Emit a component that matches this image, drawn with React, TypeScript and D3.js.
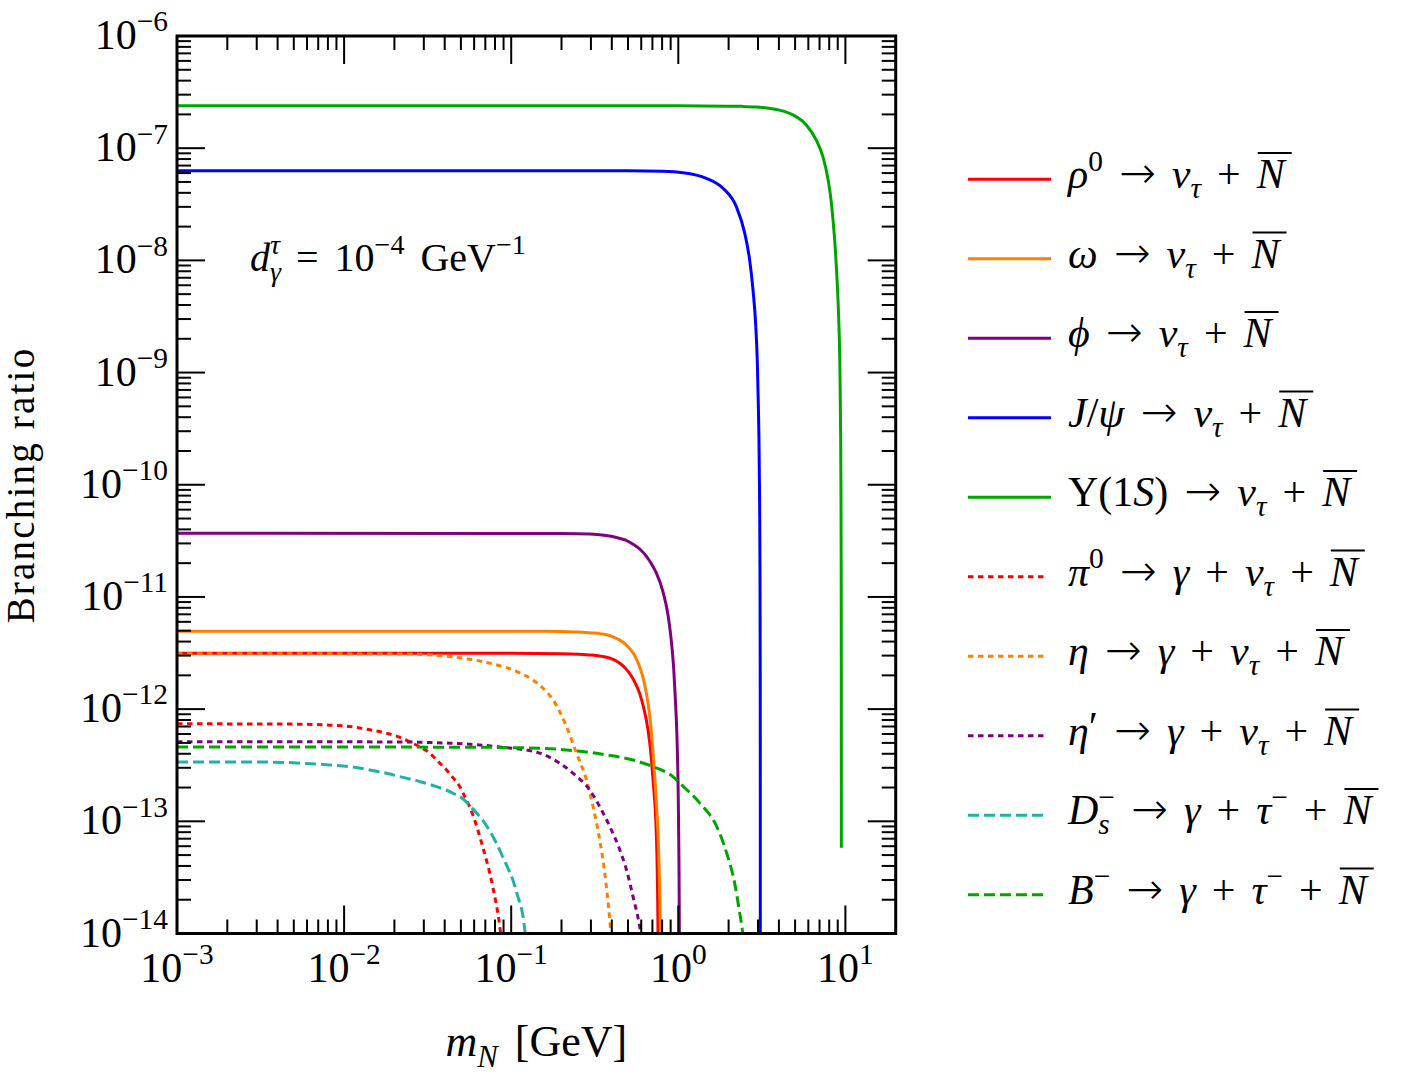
import React, { useRef, useEffect } from "react";
import * as d3 from "d3";

type Pt = [number, number];
type Seg = [string, string];

// m_N [GeV] vs branching ratio
const rhoCurve: Pt[] = [
  [0.001, 3.15e-12], [0.1, 3.15e-12], [0.2, 3.12e-12], [0.2512, 3.085e-12], [0.302, 3.03e-12],
  [0.339, 2.97e-12], [0.3715, 2.9e-12], [0.4074, 2.77e-12], [0.4467, 2.56e-12], [0.4895, 2.26e-12],
  [0.537, 1.855e-12], [0.5876, 1.375e-12], [0.6237, 9.96e-13], [0.6589, 6.5e-13], [0.684, 4.15e-13],
  [0.7058, 2.34e-13], [0.7396, 7.3e-14], [0.7561, 1.0e-14], [0.762, 1e-15],
];
const omegaCurve: Pt[] = [
  [0.001, 4.95e-12], [0.1, 4.95e-12], [0.2, 4.93e-12], [0.2512, 4.86e-12], [0.302, 4.78e-12],
  [0.339, 4.71e-12], [0.3715, 4.6e-12], [0.4074, 4.41e-12], [0.4467, 4.12e-12], [0.4895, 3.72e-12],
  [0.537, 3.16e-12], [0.5876, 2.39e-12], [0.6237, 1.76e-12], [0.6589, 1.13e-12], [0.684, 7.3e-13],
  [0.7058, 4.05e-13], [0.7396, 1.45e-13], [0.7635, 5.2e-14], [0.7815, 1.0e-14], [0.7826, 1e-15],
];
const phiCurve: Pt[] = [
  [0.001, 3.7e-11], [0.2, 3.68e-11], [0.2953, 3.63e-11], [0.36, 3.54e-11], [0.4265, 3.39e-11],
  [0.48, 3.22e-11], [0.5359, 2.95e-11], [0.59, 2.66e-11], [0.6445, 2.3e-11], [0.69, 1.98e-11],
  [0.7396, 1.63e-11], [0.8101, 1.11e-11], [0.868, 6.9e-12], [0.9093, 4.0e-12], [0.9387, 2.3e-12],
  [0.9608, 1.2e-12], [0.9787, 6.5e-13], [0.9991, 1.7e-13], [1.0093, 4.3e-14], [1.0144, 1.1e-14],
  [1.0175, 1.8e-15],
];
const jpsiCurve: Pt[] = [
  [0.001, 6.3e-8], [0.5, 6.28e-8], [0.8, 6.22e-8], [1.067, 6.05e-8], [1.472, 5.39e-8], [1.85, 4.39e-8],
  [2.226, 3.01e-8], [2.495, 1.76e-8], [2.673, 1.01e-8], [2.798, 5.5e-9], [2.904, 2.7e-9],
  [2.973, 1.2e-9], [3.013, 5.1e-10], [3.035, 2.9e-10], [3.066, 7.4e-11], [3.0815, 1.87e-11],
  [3.0908, 3.0e-12], [3.0939, 7.5e-13], [3.0961, 6.8e-14], [3.0969, 1e-15],
];
const upsCurve: Pt[] = [
  [0.001, 2.39e-7], [1.0, 2.39e-7], [2.0, 2.37e-7], [2.4, 2.36e-7], [2.932, 2.33e-7], [3.4, 2.28e-7],
  [3.862, 2.21e-7], [4.35, 2.115e-7], [4.853, 1.98e-7], [5.836, 1.61e-7], [6.697, 1.18e-7],
  [7.334, 8.4e-8], [7.859, 5.35e-8], [8.234, 3.3e-8], [8.498, 2.0e-8], [8.737, 1.15e-8],
  [8.92, 6.6e-9], [9.1, 3.3e-9], [9.271, 1.1e-9], [9.365, 2.8e-10], [9.413, 7.1e-11],
  [9.441, 1.14e-11], [9.4505, 2.9e-12], [9.4572, 2.6e-13], [9.4588, 5.8e-14],
];
const pi0Curve: Pt[] = [
  [0.001, 7.4e-13], [0.005, 7.35e-13], [0.00822, 7.2e-13], [0.01083, 7.0e-13], [0.01426, 6.55e-13],
  [0.01796, 6.1e-13], [0.0216, 5.6e-13], [0.02475, 5.1e-13], [0.0284, 4.6e-13], [0.0326, 4.05e-13],
  [0.0359, 3.5e-13], [0.041, 2.87e-13], [0.0448, 2.45e-13], [0.04927, 2.04e-13], [0.0528, 1.65e-13],
  [0.0565, 1.34e-13], [0.0676, 5.9e-14], [0.0776, 2.6e-14], [0.0855, 1.15e-14], [0.088, 8e-15],
];
const etaCurve: Pt[] = [
  [0.001, 3.12e-12], [0.0216, 3.1e-12], [0.0429, 2.94e-12], [0.0676, 2.65e-12], [0.108, 2.16e-12],
  [0.1346, 1.82e-12], [0.1589, 1.48e-12], [0.178, 1.21e-12], [0.2141, 7.0e-13], [0.2457, 4.05e-13],
  [0.2821, 2.34e-13], [0.309, 1.35e-13], [0.3388, 6.8e-14], [0.363, 3.45e-14], [0.389, 1.32e-14],
  [0.398, 9e-15],
];
const etapCurve: Pt[] = [
  [0.001, 5.13e-13], [0.02, 5.1e-13], [0.0429, 4.97e-13], [0.0855, 4.6e-13], [0.1483, 4.05e-13],
  [0.1953, 3.29e-13], [0.2346, 2.68e-13], [0.2953, 1.9e-13], [0.3388, 1.35e-13], [0.389, 9.0e-14],
  [0.446, 5.6e-14], [0.4895, 3.7e-14], [0.5359, 2.13e-14], [0.5876, 1.15e-14], [0.61, 8e-15],
];
const dsCurve: Pt[] = [
  [0.001, 3.38e-13], [0.0036, 3.37e-13], [0.00569, 3.29e-13], [0.00822, 3.18e-13], [0.01083, 3.07e-13],
  [0.01426, 2.87e-13], [0.01796, 2.68e-13], [0.0216, 2.5e-13], [0.0284, 2.26e-13], [0.0357, 2.04e-13],
  [0.0449, 1.78e-13], [0.0516, 1.58e-13], [0.0565, 1.38e-13], [0.0745, 8.2e-14], [0.0891, 4.8e-14],
  [0.108, 2.3e-14], [0.1206, 1.08e-14], [0.122, 8e-15],
];
const bCurve: Pt[] = [
  [0.001, 4.6e-13], [0.05, 4.58e-13], [0.1483, 4.48e-13], [0.2346, 4.27e-13], [0.3715, 3.91e-13],
  [0.5359, 3.52e-13], [0.7058, 3.07e-13], [0.9296, 2.5e-13], [1.0195, 2.19e-13], [1.343, 1.46e-13],
  [1.697, 9.0e-14], [1.948, 5.2e-14], [2.175, 2.8e-14], [2.329, 1.53e-14], [2.428, 1.0e-14],
  [2.46, 8e-15],
];

const curves = [rhoCurve, omegaCurve, phiCurve, jpsiCurve, upsCurve, pi0Curve, etaCurve, etapCurve, dsCurve, bCurve];

const arrow: Seg[] = [[" ", "r"], ["→", "arr"], [" ", "r"]];
const nuN: Seg[] = [...arrow, ["ν", "i"], ["τ", "subi"], [" + ", "r"], ["N", "bar"]];
const gnuN: Seg[] = [...arrow, ["γ", "i"], [" + ", "r"], ["ν", "i"], ["τ", "subi"], [" + ", "r"], ["N", "bar"]];
const gtauN: Seg[] = [...arrow, ["γ", "i"], [" + ", "r"], ["τ", "i"], ["−", "sup"], [" + ", "r"], ["N", "bar"]];

const legendLabels: Seg[][] = [
  [["ρ", "i"], ["0", "sup"], ...nuN],
  [["ω", "i"], ...nuN],
  [["ϕ", "i"], ...nuN],
  [["J", "i"], ["/", "r"], ["ψ", "i"], ...nuN],
  [["Υ(1", "r"], ["S", "i"], [")", "r"], ...nuN],
  [["π", "i"], ["0", "sup"], ...gnuN],
  [["η", "i"], ...gnuN],
  [["η", "i"], ["′", "prime"], ...gnuN],
  [["D", "i"], ["s", "subi"], ["−", "supb"], ...gtauN],
  [["B", "i"], ["−", "sup"], ...gtauN],
];

const seriesStyle = [
  { color: "#ff0000", dash: null },
  { color: "#ff8000", dash: null },
  { color: "#800080", dash: null },
  { color: "#0000ff", dash: null },
  { color: "#00a600", dash: null },
  { color: "#ff0000", dash: "5.5,4.5" },
  { color: "#ff8000", dash: "5.5,4.5" },
  { color: "#800080", dash: "5.5,4.5" },
  { color: "#20b2aa", dash: "11,5" },
  { color: "#00a600", dash: "11,5" },
];

const yExps = [-6, -7, -8, -9, -10, -11, -12, -13, -14];
const xExps = [-3, -2, -1, 0, 1];

const annotation: Seg[] = [["d", "i"], ["γ", "subi"], ["τ", "supib"], [" = 10", "r"], ["−4", "sup"], [" GeV", "r"], ["−1", "sup"]];
const xTitle: Seg[] = [["m", "i"], ["N", "subi"], [" [GeV]", "r"]];

const FONT = "'Liberation Serif', 'DejaVu Serif', serif";

function drawMath(parent: any, segs: Seg[], x: number, y: number, fs: number, anchor: string, ws = 0) {
  const text = parent
    .append("text")
    .attr("x", x)
    .attr("y", y)
    .attr("font-size", fs)
    .attr("font-family", FONT)
    .attr("text-anchor", anchor)
    .style("white-space", "pre")
    .style("word-spacing", `${ws}px`);
  let shift = 0;
  let prev: any = null;
  const bars: any[] = [];
  segs.forEach(([s, k]) => {
    const isSup = k.startsWith("sup");
    const isSub = k.startsWith("sub");
    const target = isSup ? -0.42 * fs : isSub ? 0.24 * fs : k === "prime" ? -0.08 * fs : 0;
    const italic = k === "i" || k === "bar" || k === "subi" || k === "supib";
    const ts = text
      .append("tspan")
      .text(s)
      .attr("dy", target - shift)
      .attr("font-size", isSup || isSub ? fs * 0.7 : k === "arr" ? fs * 1.05 : fs)
      .attr("font-style", italic ? "italic" : "normal");
    if (k === "arr") ts.attr("font-family", "'DejaVu Sans', sans-serif").attr("font-weight", 300);
    if ((k === "supb" || k === "supib") && prev) ts.attr("dx", -prev.getComputedTextLength());
    shift = target;
    prev = ts.node();
    if (k === "bar") bars.push(ts.node());
  });
  bars.forEach((b) => {
    const bb = b.getBBox();
    parent
      .append("line")
      .attr("x1", bb.x + 2)
      .attr("x2", bb.x + bb.width + 5)
      .attr("y1", y - 0.84 * fs)
      .attr("y2", y - 0.84 * fs)
      .attr("stroke", "#000")
      .attr("stroke-width", 2);
  });
  return text;
}

export default function App() {
  const svgRef = useRef<SVGSVGElement>(null);

  useEffect(() => {
    const svg = d3.select(svgRef.current);
    svg.selectAll("*").remove();

    const left = 177, right = 895.7, top = 36, bottom = 933.5;
    const x = d3.scaleLog().domain([1e-3, 20]).range([left, right]);
    const y = d3.scaleLog().domain([1e-14, 1e-6]).range([bottom, top]);

    svg.append("rect").attr("width", 1412).attr("height", 1073).attr("fill", "#fff");

    svg.append("defs").append("clipPath").attr("id", "plotclip")
      .append("rect").attr("x", left).attr("y", top).attr("width", right - left).attr("height", bottom - top);

    const line = d3.line<Pt>().x((d) => x(d[0])).y((d) => y(d[1])).curve(d3.curveMonotoneX);

    const plot = svg.append("g").attr("clip-path", "url(#plotclip)");
    curves.forEach((c, i) => {
      const st = seriesStyle[i];
      plot.append("path")
        .attr("d", line(c))
        .attr("fill", "none")
        .attr("stroke", st.color)
        .attr("stroke-width", 3)
        .attr("stroke-dasharray", st.dash)
        .attr("stroke-linejoin", "round");
    });

    // ticks, inward on all four sides
    const ticks = svg.append("g").attr("stroke", "#000").attr("stroke-width", 2);
    const isMajor = (v: number) => Math.abs(Math.log10(v) - Math.round(Math.log10(v))) < 1e-6;
    x.ticks().filter((v) => v <= 19.9).forEach((v) => {
      const len = isMajor(v) ? 28 : 14;
      const px = x(v);
      ticks.append("line").attr("x1", px).attr("x2", px).attr("y1", bottom).attr("y2", bottom - len);
      ticks.append("line").attr("x1", px).attr("x2", px).attr("y1", top).attr("y2", top + len);
    });
    y.ticks().forEach((v) => {
      const len = isMajor(v) ? 28 : 14;
      const py = y(v);
      ticks.append("line").attr("x1", left).attr("x2", left + len).attr("y1", py).attr("y2", py);
      ticks.append("line").attr("x1", right).attr("x2", right - len).attr("y1", py).attr("y2", py);
    });

    svg.append("rect")
      .attr("x", left).attr("y", top).attr("width", right - left).attr("height", bottom - top)
      .attr("fill", "none").attr("stroke", "#000").attr("stroke-width", 3);

    // tick labels
    yExps.forEach((e) => {
      drawMath(svg, [["10", "r"], [`${e < 0 ? "−" : ""}${Math.abs(e)}`, "sup"]], 168, y(Math.pow(10, e)) + 13, 42, "end");
    });
    xExps.forEach((e) => {
      drawMath(svg, [["10", "r"], [`${e < 0 ? "−" : ""}${Math.abs(e)}`, "sup"]], x(Math.pow(10, e)), 982, 42, "middle");
    });

    // axis titles
    drawMath(svg, xTitle, (left + right) / 2, 1056, 44, "middle", 6);
    svg.append("text")
      .attr("transform", "translate(34,485) rotate(-90)")
      .attr("text-anchor", "middle")
      .attr("font-family", FONT)
      .attr("font-size", 39)
      .attr("letter-spacing", 2.2)
      .text("Branching ratio");

    drawMath(svg, annotation, 250, 271, 40, "start", 6);

    // legend
    const lg = svg.append("g");
    legendLabels.forEach((lab, i) => {
      const ly = 179.3 + i * 79.5;
      const st = seriesStyle[i];
      lg.append("line")
        .attr("x1", 968).attr("x2", st.dash ? 1047 : 1051)
        .attr("y1", ly).attr("y2", ly)
        .attr("stroke", st.color).attr("stroke-width", 3)
        .attr("stroke-dasharray", st.dash);
      drawMath(lg, lab, 1068, ly + 9, 42, "start", 5.5);
    });
  }, []);

  return (
    <svg
      ref={svgRef}
      width={1412}
      height={1073}
      style={{ position: "absolute", left: 0, top: 0, display: "block" }}
    />
  );
}
